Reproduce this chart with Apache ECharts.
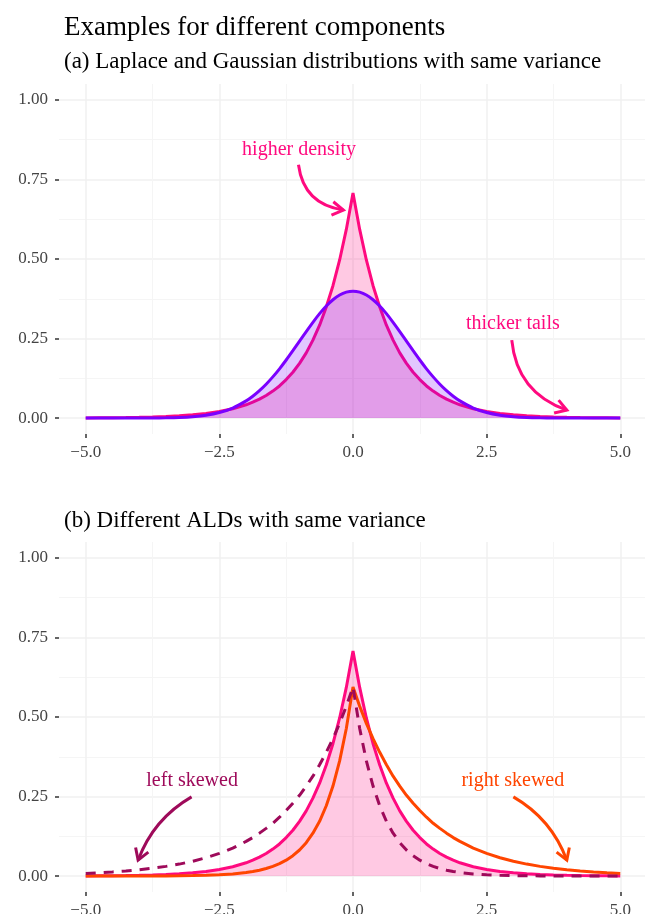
<!DOCTYPE html>
<html>
<head>
<meta charset="utf-8">
<script src="https://cdn.jsdelivr.net/npm/echarts@6/dist/echarts.min.js"></script>
<style>html,body{margin:0;padding:0;background:#fff}#chart{width:645px;height:914px}</style>
</head>
<body>
<div id="chart"></div>
<script>
// x grid shared by every curve (denser near the peak)
var xs = [-5, -4.75, -4.5, -4.25, -4, -3.75, -3.5, -3.25, -3, -2.75, -2.5, -2.25,
  -2, -1.875, -1.75, -1.625, -1.5, -1.375, -1.25, -1.125, -1, -0.875, -0.75, -0.625, -0.5, -0.375, -0.25, -0.125,
  0,
  0.125, 0.25, 0.375, 0.5, 0.625, 0.75, 0.875, 1, 1.125, 1.25, 1.375, 1.5, 1.625, 1.75, 1.875, 2,
  2.25, 2.5, 2.75, 3, 3.25, 3.5, 3.75, 4, 4.25, 4.5, 4.75, 5];

var laplace = [0.0006, 0.0009, 0.0012, 0.0017, 0.0025, 0.0035, 0.0050, 0.0071, 0.0102, 0.0145, 0.0206, 0.0293,
  0.0418, 0.0499, 0.0595, 0.0710, 0.0848, 0.101, 0.121, 0.144, 0.172, 0.205, 0.245, 0.292, 0.349, 0.416, 0.497, 0.593,
  0.707,
  0.593, 0.497, 0.416, 0.349, 0.292, 0.245, 0.205, 0.172, 0.144, 0.121, 0.101, 0.0848, 0.0710, 0.0595, 0.0499, 0.0418,
  0.0293, 0.0206, 0.0145, 0.0102, 0.0071, 0.0050, 0.0035, 0.0025, 0.0017, 0.0012, 0.0009, 0.0006];

var gauss = [0, 0, 0, 0.0001, 0.0001, 0.0004, 0.0009, 0.002, 0.0044, 0.0091, 0.0175, 0.0317,
  0.054, 0.0687, 0.0863, 0.1065, 0.1295, 0.1548, 0.1826, 0.2119, 0.242, 0.2721, 0.3011, 0.3282, 0.3521, 0.3719, 0.3867, 0.3958,
  0.3989,
  0.3958, 0.3867, 0.3719, 0.3521, 0.3282, 0.3011, 0.2721, 0.242, 0.2119, 0.1826, 0.1548, 0.1295, 0.1065, 0.0863, 0.0687, 0.054,
  0.0317, 0.0175, 0.0091, 0.0044, 0.002, 0.0009, 0.0004, 0.0001, 0.0001, 0, 0, 0];

var leftSkew = [0.0085, 0.0105, 0.0130, 0.0161, 0.0199, 0.0246, 0.0305, 0.0377, 0.0466, 0.0576, 0.0712, 0.088,
  0.109, 0.121, 0.135, 0.150, 0.166, 0.185, 0.206, 0.229, 0.254, 0.283, 0.314, 0.350, 0.389, 0.432, 0.480, 0.534,
  0.594,
  0.464, 0.362, 0.283, 0.221, 0.172, 0.135, 0.105, 0.082, 0.064, 0.050, 0.039, 0.0305, 0.0238, 0.0186, 0.0145, 0.0113,
  0.0069, 0.0042, 0.0026, 0.0016, 0.0010, 0.0006, 0.0004, 0.0002, 0.0001, 0.0001, 0, 0];

var rightSkew = [0, 0, 0.0001, 0.0001, 0.0002, 0.0004, 0.0006, 0.0010, 0.0016, 0.0026, 0.0042, 0.0069,
  0.0113, 0.0145, 0.0186, 0.0238, 0.0305, 0.039, 0.050, 0.064, 0.082, 0.105, 0.135, 0.172, 0.221, 0.283, 0.362, 0.464,
  0.594,
  0.534, 0.480, 0.432, 0.389, 0.350, 0.314, 0.283, 0.254, 0.229, 0.206, 0.185, 0.166, 0.150, 0.135, 0.121, 0.109,
  0.088, 0.0712, 0.0576, 0.0466, 0.0377, 0.0305, 0.0246, 0.0199, 0.0161, 0.0130, 0.0105, 0.0085];

var xTicks = [-5, -2.5, 0, 2.5, 5];
var xMinor = [-3.75, -1.25, 1.25, 3.75];
var yTicks = [0, 0.25, 0.5, 0.75, 1];
var yMinor = [0.125, 0.375, 0.625, 0.875];

// annotations: label position, arrow start, arrow end (data units), bend
var annotA = [
  {label: 'higher density', color: '#ff0a7f', text: [-1.01, 0.843], from: [-1.02, 0.796], to: [-0.18, 0.654], bend: 0.38},
  {label: 'thicker tails', color: '#ff0a7f', text: [2.99, 0.296], from: [2.97, 0.245], to: [4.0, 0.025], bend: 0.32}
];
var annotB = [
  {label: 'left skewed', color: '#9e0a5a', text: [-3.01, 0.299], from: [-3.02, 0.249], to: [-4.02, 0.05], bend: 0.18},
  {label: 'right skewed', color: '#ff4500', text: [2.99, 0.299], from: [3.0, 0.249], to: [4.0, 0.05], bend: -0.18}
];

var PINK = '#ff0a7f', PURPLE = '#7b00ff', MAGENTA = '#9e0a5a', ORANGE = '#ff4500';
var FONT = '"Liberation Serif", "DejaVu Serif", serif';

function pairs(arr) {
  return xs.map(function (x, i) { return [x, arr[i]]; });
}

function fmtX(v) {
  return (v < 0 ? '\u2212' : '') + Math.abs(v).toFixed(1);
}

function xAxisPair(grid) {
  return [
    {
      type: 'value', gridIndex: grid, min: -5.5, max: 5.5,
      axisLine: {show: false, onZero: false},
      axisTick: {show: true, customValues: xTicks, length: 4, lineStyle: {color: '#333', width: 1.5}},
      axisLabel: {customValues: xTicks, formatter: fmtX, margin: 10, color: '#444', fontSize: 17, fontFamily: FONT},
      splitLine: {show: true, lineStyle: {color: '#f0f0f0', width: 1.5}}
    },
    {
      type: 'value', gridIndex: grid, min: -5.5, max: 5.5, position: 'top',
      axisLine: {show: false, onZero: false},
      axisTick: {show: false, customValues: xMinor},
      axisLabel: {show: false, customValues: xMinor},
      splitLine: {show: true, lineStyle: {color: '#f5f5f5', width: 1}}
    }
  ];
}

function yAxisPair(grid) {
  return [
    {
      type: 'value', gridIndex: grid, min: -0.05, max: 1.05,
      axisLine: {show: false, onZero: false},
      axisTick: {show: true, customValues: yTicks, length: 4, lineStyle: {color: '#333', width: 1.5}},
      axisLabel: {customValues: yTicks, formatter: function (v) { return v.toFixed(2); }, margin: 11, color: '#444', fontSize: 17, fontFamily: FONT},
      splitLine: {show: true, lineStyle: {color: '#f0f0f0', width: 1.5}}
    },
    {
      type: 'value', gridIndex: grid, min: -0.05, max: 1.05, position: 'right',
      axisLine: {show: false, onZero: false},
      axisTick: {show: false, customValues: yMinor},
      axisLabel: {show: false, customValues: yMinor},
      splitLine: {show: true, lineStyle: {color: '#f5f5f5', width: 1}}
    }
  ];
}

function annotSeries(list, xi, yi) {
  return {
    type: 'custom', xAxisIndex: xi, yAxisIndex: yi, silent: true, z: 10,
    data: list.map(function (a) { return a.text; }),
    renderItem: function (params, api) {
      var a = list[params.dataIndex];
      var t = api.coord(a.text), p0 = api.coord(a.from), p1 = api.coord(a.to);
      var dx = p1[0] - p0[0], dy = p1[1] - p0[1];
      var cx = (p0[0] + p1[0]) / 2 - dy * a.bend;
      var cy = (p0[1] + p1[1]) / 2 + dx * a.bend;
      var tx = p1[0] - cx, ty = p1[1] - cy, tl = Math.sqrt(tx * tx + ty * ty);
      tx /= tl; ty /= tl;
      var L = 13, ang = 0.55;
      var h1 = [p1[0] - L * (tx * Math.cos(ang) - ty * Math.sin(ang)), p1[1] - L * (ty * Math.cos(ang) + tx * Math.sin(ang))];
      var h2 = [p1[0] - L * (tx * Math.cos(-ang) - ty * Math.sin(-ang)), p1[1] - L * (ty * Math.cos(-ang) + tx * Math.sin(-ang))];
      return {
        type: 'group',
        children: [
          {type: 'text', style: {text: a.label, x: t[0], y: t[1], fill: a.color, font: '20px ' + FONT,
            align: 'center', verticalAlign: 'middle', textAlign: 'center', textVerticalAlign: 'middle'}},
          {type: 'bezierCurve', shape: {x1: p0[0], y1: p0[1], x2: p1[0], y2: p1[1], cpx1: cx, cpy1: cy},
            style: {stroke: a.color, lineWidth: 3, fill: null}},
          {type: 'polyline', shape: {points: [h1, p1, h2]}, style: {stroke: a.color, lineWidth: 3, fill: null}}
        ]
      };
    }
  };
}

var chart = echarts.init(document.getElementById('chart'));
var option = {
  backgroundColor: '#fff',
  animation: false,
  title: [
    {text: 'Examples for different components', left: 64, top: 14, padding: 0, textStyle: {fontFamily: FONT, fontSize: 27, fontWeight: 'normal', color: '#000', lineHeight: 27}},
    {text: '(a) Laplace and Gaussian distributions with same variance', left: 64, top: 50, padding: 0, textStyle: {fontFamily: FONT, fontSize: 23, fontWeight: 'normal', color: '#000', lineHeight: 23}},
    {text: '(b) Different ALDs with same variance', left: 64, top: 509, padding: 0, textStyle: {fontFamily: FONT, fontSize: 23, fontWeight: 'normal', color: '#000', lineHeight: 23}}
  ],
  grid: [
    {left: 59, top: 84, width: 588, height: 350, outerBoundsMode: 'none'},
    {left: 59, top: 542, width: 588, height: 350, outerBoundsMode: 'none'}
  ],
  xAxis: xAxisPair(0).concat(xAxisPair(1)),
  yAxis: yAxisPair(0).concat(yAxisPair(1)),
  series: [
    {type: 'line', name: 'Laplace', xAxisIndex: 0, yAxisIndex: 0, data: pairs(laplace), showSymbol: false,
      lineStyle: {color: PINK, width: 3}, areaStyle: {color: PINK, opacity: 0.22}, z: 2},
    {type: 'line', name: 'Gaussian', xAxisIndex: 0, yAxisIndex: 0, data: pairs(gauss), showSymbol: false, smooth: 0.3,
      lineStyle: {color: PURPLE, width: 3}, areaStyle: {color: PURPLE, opacity: 0.22}, z: 3},
    annotSeries(annotA, 0, 0),
    {type: 'line', name: 'Laplace', xAxisIndex: 2, yAxisIndex: 2, data: pairs(laplace), showSymbol: false,
      lineStyle: {color: PINK, width: 3}, areaStyle: {color: PINK, opacity: 0.22}, z: 2},
    {type: 'line', name: 'right skewed', xAxisIndex: 2, yAxisIndex: 2, data: pairs(rightSkew), showSymbol: false,
      lineStyle: {color: ORANGE, width: 3}, z: 3},
    {type: 'line', name: 'left skewed', xAxisIndex: 2, yAxisIndex: 2, data: pairs(leftSkew), showSymbol: false,
      lineStyle: {color: MAGENTA, width: 3, type: [10, 8]}, z: 4},
    annotSeries(annotB, 2, 2)
  ]
};
chart.setOption(option);
</script>
</body>
</html>
